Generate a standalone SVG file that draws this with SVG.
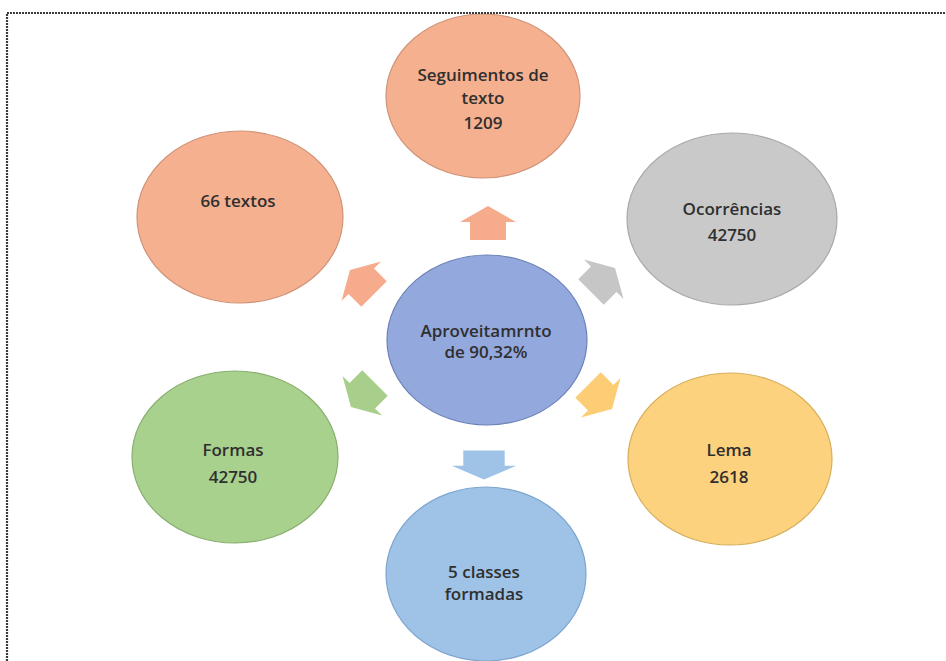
<svg xmlns="http://www.w3.org/2000/svg" width="946" height="661" viewBox="0 0 946 661">
  <defs>
    <style>
      .lbl { font-family: "Open Sans", "Liberation Sans", sans-serif; font-weight: 600; font-size: 17px; text-anchor: middle; dominant-baseline: central; fill: #2f2f2f; }
      .node { stroke-width: 1.2; }
      .orange { fill: #f5b090; stroke: #cf9478; }
      .gray { fill: #c9c9c9; stroke: #a9a9a9; }
      .center { fill: #93a8dc; stroke: #6f82b8; }
      .green { fill: #a9d18e; stroke: #89ae6f; }
      .yellow { fill: #fdd27e; stroke: #d6ae5c; }
      .blue { fill: #9fc3e7; stroke: #7ea5cf; }
      .frame { fill: none; stroke: #3a3a3a; stroke-width: 2.2; stroke-dasharray: 2 1; }
    </style>
    <!-- block arrow pointing up, centred on the origin -->
    <path id="arrow" d="M0,-17 L28,-1 L18,-1 L18,17 L-18,17 L-18,-1 L-28,-1 Z"/>
  </defs>

  <rect width="946" height="661" fill="#ffffff"/>

  <!-- arrows from the centre to each outer node -->
  <g id="connectors">
    <use href="#arrow" transform="translate(488,223)" fill="#f6ab8c"/>
    <use href="#arrow" transform="translate(362,282) rotate(-45)" fill="#f6ab8c"/>
    <use href="#arrow" transform="translate(603,280) rotate(45)" fill="#c6c6c6"/>
    <use href="#arrow" transform="translate(363,395) rotate(-135)" fill="#a7cf8b"/>
    <use href="#arrow" transform="translate(600,397) rotate(135)" fill="#fccd74"/>
    <use href="#arrow" transform="translate(484,465) rotate(180) scale(1.15,0.85)" fill="#9fc3e7"/>
  </g>

  <g id="node-segmentos">
    <ellipse class="node orange" cx="483" cy="96" rx="97" ry="82"/>
    <text class="lbl" x="483" y="74">Seguimentos de</text>
    <text class="lbl" x="483" y="97">texto</text>
    <text class="lbl" x="483" y="122">1209</text>
  </g>

  <g id="node-textos">
    <ellipse class="node orange" cx="240" cy="217" rx="103" ry="86"/>
    <text class="lbl" x="238" y="200">66 textos</text>
  </g>

  <g id="node-ocorrencias">
    <ellipse class="node gray" cx="732" cy="219" rx="105" ry="86"/>
    <text class="lbl" x="732" y="208">Ocorrências</text>
    <text class="lbl" x="732" y="234">42750</text>
  </g>

  <g id="node-aproveitamento">
    <ellipse class="node center" cx="487" cy="340" rx="100" ry="85"/>
    <text class="lbl" x="486" y="330">Aproveitamrnto</text>
    <text class="lbl" x="486" y="351">de 90,32%</text>
  </g>

  <g id="node-formas">
    <ellipse class="node green" cx="235" cy="457" rx="103" ry="86"/>
    <text class="lbl" x="233" y="449">Formas</text>
    <text class="lbl" x="233" y="476">42750</text>
  </g>

  <g id="node-lema">
    <ellipse class="node yellow" cx="730" cy="459" rx="102" ry="86"/>
    <text class="lbl" x="729" y="449">Lema</text>
    <text class="lbl" x="729" y="476">2618</text>
  </g>

  <g id="node-classes">
    <ellipse class="node blue" cx="486" cy="574" rx="100" ry="87"/>
    <text class="lbl" x="484" y="571">5 classes</text>
    <text class="lbl" x="484" y="593">formadas</text>
  </g>

  <!-- dotted frame along the top and left edges -->
  <path class="frame" d="M7,661 L7,13 L946,13"/>
</svg>
